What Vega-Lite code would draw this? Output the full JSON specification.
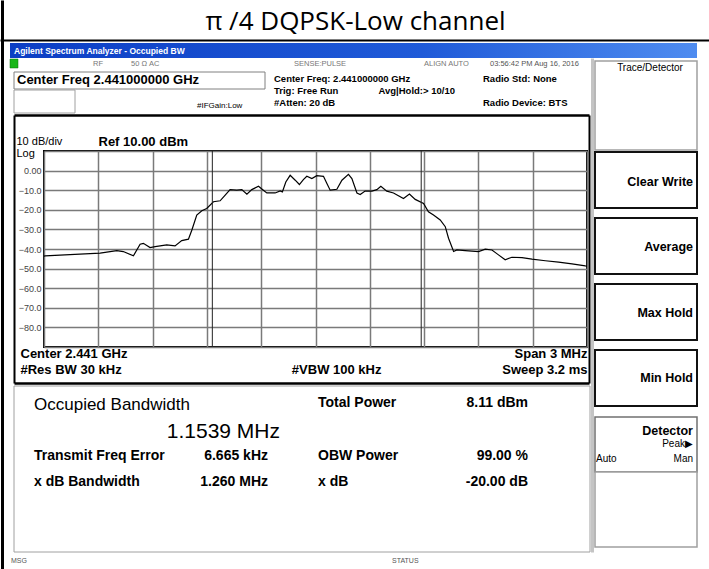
{
  "$schema": "https://vega.github.io/schema/vega-lite/v6.json",
  "width": 543,
  "height": 196,
  "autosize": {"type": "none"},
  "padding": {"left": 44, "top": 151, "right": 122, "bottom": 222},
  "background": "white",
  "config": {"view": {"stroke": "black", "strokeWidth": 2}, "font": "Liberation Sans"},
  "datasets": {
    "trace": [
      {"f": 2439.500, "db": -43.6}, {"f": 2439.506, "db": -43.5}, {"f": 2439.810, "db": -42.1}, {"f": 2439.902, "db": -40.8},
      {"f": 2439.938, "db": -41.3}, {"f": 2439.994, "db": -43.5}, {"f": 2440.031, "db": -37.6}, {"f": 2440.049, "db": -37.1},
      {"f": 2440.086, "db": -39.3}, {"f": 2440.114, "db": -38.8}, {"f": 2440.178, "db": -37.9}, {"f": 2440.224, "db": -38.4},
      {"f": 2440.261, "db": -35.7}, {"f": 2440.298, "db": -35.0}, {"f": 2440.317, "db": -30.3}, {"f": 2440.344, "db": -22.7},
      {"f": 2440.372, "db": -20.5}, {"f": 2440.399, "db": -19.3}, {"f": 2440.436, "db": -15.9}, {"f": 2440.473, "db": -15.4},
      {"f": 2440.501, "db": -12.5}, {"f": 2440.528, "db": -9.7}, {"f": 2440.565, "db": -10.0}, {"f": 2440.593, "db": -9.7},
      {"f": 2440.621, "db": -12.0}, {"f": 2440.648, "db": -9.7}, {"f": 2440.685, "db": -8.0}, {"f": 2440.712, "db": -10.0},
      {"f": 2440.731, "db": -11.4}, {"f": 2440.777, "db": -11.4}, {"f": 2440.805, "db": -10.4}, {"f": 2440.817, "db": -10.9},
      {"f": 2440.836, "db": -5.8}, {"f": 2440.860, "db": -2.4}, {"f": 2440.888, "db": -4.9}, {"f": 2440.911, "db": -7.1},
      {"f": 2440.933, "db": -4.6}, {"f": 2440.952, "db": -2.9}, {"f": 2440.980, "db": -4.1}, {"f": 2441.007, "db": -2.6},
      {"f": 2441.044, "db": -2.9}, {"f": 2441.063, "db": -6.6}, {"f": 2441.081, "db": -10.0}, {"f": 2441.118, "db": -9.5},
      {"f": 2441.146, "db": -4.9}, {"f": 2441.182, "db": -1.9}, {"f": 2441.201, "db": -4.1}, {"f": 2441.229, "db": -11.4},
      {"f": 2441.247, "db": -12.2}, {"f": 2441.274, "db": -10.4}, {"f": 2441.312, "db": -10.5}, {"f": 2441.339, "db": -9.7},
      {"f": 2441.361, "db": -8.0}, {"f": 2441.394, "db": -10.5}, {"f": 2441.431, "db": -11.4}, {"f": 2441.486, "db": -14.2},
      {"f": 2441.519, "db": -12.0}, {"f": 2441.551, "db": -14.7}, {"f": 2441.597, "db": -16.8}, {"f": 2441.624, "db": -21.0},
      {"f": 2441.652, "db": -22.7}, {"f": 2441.689, "db": -25.2}, {"f": 2441.717, "db": -28.6}, {"f": 2441.735, "db": -34.5},
      {"f": 2441.763, "db": -41.3}, {"f": 2441.781, "db": -40.5}, {"f": 2441.827, "db": -40.8}, {"f": 2441.901, "db": -41.3},
      {"f": 2441.938, "db": -40.1}, {"f": 2441.975, "db": -40.5}, {"f": 2442.011, "db": -43.0}, {"f": 2442.048, "db": -45.5},
      {"f": 2442.085, "db": -44.2}, {"f": 2442.141, "db": -44.4}, {"f": 2442.196, "db": -45.2}, {"f": 2442.270, "db": -46.0},
      {"f": 2442.343, "db": -46.7}, {"f": 2442.417, "db": -47.6}, {"f": 2442.491, "db": -48.6}, {"f": 2442.500, "db": -48.7}
    ],
    "markers": [{"f": 2440.430}, {"f": 2441.584}],
    "panel": [
      {"t": "Occupied Bandwidth", "c": "A", "r": "r1", "role": "heading"},
      {"t": "Total Power", "c": "C", "r": "r1", "role": "label"},
      {"t": "8.11 dBm", "c": "D", "r": "r1", "role": "value"},
      {"t": "1.1539 MHz", "c": "E", "r": "r2", "role": "big"},
      {"t": "Transmit Freq Error", "c": "A", "r": "r3", "role": "label"},
      {"t": "6.665 kHz", "c": "B", "r": "r3", "role": "value"},
      {"t": "OBW Power", "c": "C", "r": "r3", "role": "label"},
      {"t": "99.00 %", "c": "D", "r": "r3", "role": "value"},
      {"t": "x dB Bandwidth", "c": "A", "r": "r4", "role": "label"},
      {"t": "1.260 MHz", "c": "B", "r": "r4", "role": "value"},
      {"t": "x dB", "c": "C", "r": "r4", "role": "label"},
      {"t": "-20.00 dB", "c": "D", "r": "r4", "role": "value"}
    ],
    "header": [
      {"t": "Center Freq: 2.441000000 GHz", "c": "h1", "r": "s1"},
      {"t": "Trig: Free Run", "c": "h1", "r": "s2"},
      {"t": "#Atten: 20 dB", "c": "h1", "r": "s3"},
      {"t": "Avg|Hold:> 10/10", "c": "h2", "r": "s2"},
      {"t": "Radio Std: None", "c": "h3", "r": "s1"},
      {"t": "Radio Device: BTS", "c": "h3", "r": "s3"}
    ],
    "keys": [
      {"t": "Clear Write", "k": "k1", "c": "s"},
      {"t": "Average", "k": "k2", "c": "s"},
      {"t": "Max Hold", "k": "k3", "c": "s"},
      {"t": "Min Hold", "k": "k4", "c": "s"}
    ],
    "detector": [
      {"t": "Peak▶", "k": "p1"},
      {"t": "Man", "k": "p2"}
    ],
    "frame": [{"k": "a"}]
  },
  "layer": [
    {
      "data": {"name": "frame"},
      "mark": {"type": "rect", "color": {"gradient": "linear", "x1": 0, "y1": 0, "x2": 1, "y2": 0, "stops": [{"offset": 0, "color": "#0c3ec4"}, {"offset": 0.6, "color": "#1f5ad8"}, {"offset": 1, "color": "#4f8cf0"}]}},
      "encoding": {
        "x": {"field": "k", "type": "nominal", "scale": {"type": "band", "domain": ["a"], "range": [-34, 653], "paddingInner": 0, "paddingOuter": 0}, "axis": null},
        "y": {"field": "k", "type": "nominal", "scale": {"type": "band", "domain": ["a"], "range": [-108, -93], "paddingInner": 0, "paddingOuter": 0}, "axis": null}
      }
    },
    {
      "data": {"name": "frame"},
      "mark": {"type": "rect", "fill": "#19b619", "stroke": "#0a700a", "strokeWidth": 0.5},
      "encoding": {
        "x": {"field": "k", "type": "nominal", "scale": {"type": "band", "domain": ["a"], "range": [-34, -26], "paddingInner": 0, "paddingOuter": 0}, "axis": null},
        "y": {"field": "k", "type": "nominal", "scale": {"type": "band", "domain": ["a"], "range": [-92, -83], "paddingInner": 0, "paddingOuter": 0}, "axis": null}
      }
    },
    {
      "data": {"name": "frame"},
      "mark": {"type": "rect", "fill": "white", "stroke": "#808080", "strokeWidth": 1},
      "encoding": {
        "x": {"field": "k", "type": "nominal", "scale": {"type": "band", "domain": ["a"], "range": [-30, 221], "paddingInner": 0, "paddingOuter": 0}, "axis": null},
        "y": {"field": "k", "type": "nominal", "scale": {"type": "band", "domain": ["a"], "range": [-79, -62], "paddingInner": 0, "paddingOuter": 0}, "axis": null}
      }
    },
    {
      "data": {"name": "frame"},
      "mark": {"type": "rect", "fill": "white", "stroke": "#a0a0a0", "strokeWidth": 1},
      "encoding": {
        "x": {"field": "k", "type": "nominal", "scale": {"type": "band", "domain": ["a"], "range": [-30, 31], "paddingInner": 0, "paddingOuter": 0}, "axis": null},
        "y": {"field": "k", "type": "nominal", "scale": {"type": "band", "domain": ["a"], "range": [-61, -38], "paddingInner": 0, "paddingOuter": 0}, "axis": null}
      }
    },
    {
      "data": {"name": "frame"},
      "mark": {"type": "rect", "fill": "white", "stroke": "#a0a0a0", "strokeWidth": 1.5},
      "encoding": {
        "x": {"field": "k", "type": "nominal", "scale": {"type": "band", "domain": ["a"], "range": [551, 653], "paddingInner": 0, "paddingOuter": 0}, "axis": null},
        "y": {"field": "k", "type": "nominal", "scale": {"type": "band", "domain": ["a"], "range": [-90, -1], "paddingInner": 0, "paddingOuter": 0}, "axis": null}
      }
    },
    {
      "data": {"name": "keys"},
      "mark": {"type": "rect", "fill": "white", "stroke": "#111", "strokeWidth": 2},
      "encoding": {
        "x": {"field": "c", "type": "nominal", "scale": {"type": "band", "domain": ["s"], "range": [551, 653], "paddingInner": 0, "paddingOuter": 0}, "axis": null},
        "y": {"field": "k", "type": "nominal", "scale": {"type": "band", "domain": ["k1", "k2", "k3", "k4"], "range": [1, 255], "paddingInner": 0.1515, "paddingOuter": 0}, "axis": null}
      }
    },
    {
      "data": {"name": "frame"},
      "mark": {"type": "rect", "fill": "white", "stroke": "#707070", "strokeWidth": 1.5},
      "encoding": {
        "x": {"field": "k", "type": "nominal", "scale": {"type": "band", "domain": ["a"], "range": [551, 653], "paddingInner": 0, "paddingOuter": 0}, "axis": null},
        "y": {"field": "k", "type": "nominal", "scale": {"type": "band", "domain": ["a"], "range": [266, 321], "paddingInner": 0, "paddingOuter": 0}, "axis": null}
      }
    },
    {
      "data": {"name": "frame"},
      "mark": {"type": "rect", "fill": "white", "stroke": "#a0a0a0", "strokeWidth": 1.5},
      "encoding": {
        "x": {"field": "k", "type": "nominal", "scale": {"type": "band", "domain": ["a"], "range": [551, 653], "paddingInner": 0, "paddingOuter": 0}, "axis": null},
        "y": {"field": "k", "type": "nominal", "scale": {"type": "band", "domain": ["a"], "range": [321, 396], "paddingInner": 0, "paddingOuter": 0}, "axis": null}
      }
    },
    {
      "data": {"name": "frame"},
      "mark": {"type": "rect", "fill": "white", "stroke": "#a0a0a0", "strokeWidth": 1},
      "encoding": {
        "x": {"field": "k", "type": "nominal", "scale": {"type": "band", "domain": ["a"], "range": [-30, 546], "paddingInner": 0, "paddingOuter": 0}, "axis": null},
        "y": {"field": "k", "type": "nominal", "scale": {"type": "band", "domain": ["a"], "range": [235, 401], "paddingInner": 0, "paddingOuter": 0}, "axis": null}
      }
    },
    {
      "data": {"name": "frame"},
      "mark": {"type": "point", "opacity": 0, "size": 0},
      "encoding": {
        "x": {"field": "k", "type": "nominal", "scale": {"type": "point", "domain": ["a"], "range": [-44, 665], "padding": 0},
          "axis": {"orient": "top", "offset": 111, "domainColor": "black", "domainWidth": 2, "labels": false, "ticks": false, "grid": false,
            "title": "π /4 DQPSK-Low channel", "titleX": 311, "titleY": -19, "titleAlign": "center", "titleBaseline": "middle",
            "titleFont": "Open Sans", "titleFontSize": 26, "titleFontWeight": "normal", "titleColor": "black"}},
        "y": {"field": "k", "type": "nominal", "scale": {"type": "point", "domain": ["a"], "range": [-151, 418], "padding": 0},
          "axis": {"orient": "left", "offset": 42, "domainColor": "black", "domainWidth": 3, "labels": false, "ticks": false, "grid": false, "title": null}}
      }
    },
    {
      "data": {"name": "frame"},
      "mark": {"type": "point", "opacity": 0, "size": 0},
      "encoding": {
        "x": {"field": "k", "type": "nominal", "scale": {"type": "point", "domain": ["a"], "range": [-30, 545], "padding": 0},
          "axis": {"orient": "top", "offset": 36, "domainColor": "black", "domainWidth": 2.5, "labels": false, "ticks": false, "grid": false, "title": null}},
        "y": {"field": "k", "type": "nominal", "scale": {"type": "point", "domain": ["a"], "range": [-36, 232], "padding": 0},
          "axis": {"orient": "left", "offset": 30, "domainColor": "black", "domainWidth": 2, "labels": false, "ticks": false, "grid": false, "title": null}}
      }
    },
    {
      "data": {"name": "frame"},
      "mark": {"type": "point", "opacity": 0, "size": 0},
      "encoding": {
        "x": {"field": "k", "type": "nominal", "scale": {"type": "point", "domain": ["a"], "range": [-30, 545], "padding": 0},
          "axis": {"orient": "bottom", "offset": 36, "domainColor": "black", "domainWidth": 2.5, "labels": false, "ticks": false, "grid": false, "title": null}},
        "y": {"field": "k", "type": "nominal", "scale": {"type": "point", "domain": ["a"], "range": [-36, 232], "padding": 0},
          "axis": {"orient": "right", "offset": 2, "domainColor": "black", "domainWidth": 2, "labels": false, "ticks": false, "grid": false, "title": null}}
      }
    },
    {
      "data": {"name": "frame"},
      "mark": {"type": "point", "opacity": 0, "size": 0},
      "encoding": {
        "y": {"field": "k", "type": "nominal", "scale": {"type": "point", "domain": ["a"], "range": [-93, 401], "padding": 0},
          "axis": {"orient": "right", "offset": 5, "domainColor": "#c4c4c4", "domainWidth": 3, "labels": false, "ticks": false, "grid": false, "title": null}}
      }
    },
    {
      "data": {"name": "trace"},
      "mark": {"type": "line", "color": "black", "strokeWidth": 1.2},
      "encoding": {
        "x": {
          "field": "f", "type": "quantitative",
          "scale": {"domain": [2439.5, 2442.5], "nice": false, "zero": false},
          "axis": {
            "values": [2439.5, 2439.8, 2440.1, 2440.4, 2440.7, 2441.0, 2441.3, 2441.6, 2441.9, 2442.2, 2442.5, 2441.114],
            "grid": true, "gridColor": "#7a7a7a", "gridWidth": 1.5,
            "gridOpacity": {"condition": {"test": "datum.value > 2441.1 && datum.value < 2441.2", "value": 0}, "value": 1},
            "ticks": false, "domain": false,
            "labelOverlap": false, "labelFlush": false, "labelBound": false,
            "labelExpr": "datum.value < 2439.6 ? ['Center  2.441 GHz', '#Res BW  30 kHz'] : datum.value > 2442.4 ? ['Span 3 MHz', 'Sweep  3.2 ms'] : (datum.value > 2441.1 && datum.value < 2441.2) ? ['', '#VBW  100 kHz'] : ''",
            "labelAlign": {"condition": [{"test": "datum.value < 2439.6", "value": "left"}, {"test": "datum.value > 2442.4", "value": "right"}], "value": "center"},
            "labelOffset": {"condition": {"test": "datum.value < 2439.6", "value": -24}, "value": 0},
            "labelBaseline": "top", "labelPadding": 0, "labelLineHeight": 16,
            "labelFont": "Liberation Sans", "labelFontSize": 13, "labelFontWeight": "bold", "labelColor": "black",
            "title": "Ref 10.00 dBm", "titleX": 54, "titleY": -206, "titleAlign": "left", "titleBaseline": "middle",
            "titleFont": "Liberation Sans", "titleFontSize": 13, "titleFontWeight": "bold", "titleColor": "black"
          }
        },
        "y": {
          "field": "db", "type": "quantitative",
          "scale": {"domain": [-90, 10], "nice": false, "zero": false},
          "axis": {
            "values": [-90, -80, -70, -60, -50, -40, -30, -20, -10, 0, 10],
            "grid": true, "gridColor": "#7a7a7a", "gridWidth": 1.5,
            "ticks": false, "domain": false, "labelOverlap": false,
            "labelExpr": "datum.value >= 10 || datum.value <= -90 ? '' : datum.value == 0 ? '0.00' : format(datum.value, '.1f')",
            "labelFont": "Liberation Sans", "labelFontSize": 9, "labelColor": "#444", "labelPadding": 3,
            "title": ["10 dB/div", "Log"], "titleAngle": 0, "titleX": -28, "titleY": -16, "titleAlign": "left", "titleBaseline": "top",
            "titleFont": "Liberation Sans", "titleFontSize": 11, "titleFontWeight": "normal", "titleLineHeight": 12, "titleColor": "black"
          }
        }
      }
    },
    {
      "data": {"name": "markers"},
      "mark": {"type": "rule", "color": "#222", "strokeWidth": 1},
      "encoding": {
        "x": {"field": "f", "type": "quantitative", "scale": {"domain": [2439.5, 2442.5], "nice": false, "zero": false}, "axis": null}
      }
    },
    {
      "data": {"name": "panel"},
      "transform": [{"filter": "datum.role == 'heading'"}],
      "mark": {"type": "text", "align": "left", "baseline": "middle", "font": "Liberation Sans", "fontSize": 17, "color": "black"},
      "encoding": {
        "x": {"field": "c", "type": "nominal", "scale": {"type": "point", "domain": ["A", "C"], "range": [-10, 274], "padding": 0}, "axis": null},
        "y": {"field": "r", "type": "nominal", "scale": {"type": "point", "domain": ["r1", "r2", "r3", "r4"], "range": [254, 331], "padding": 0}, "axis": null},
        "text": {"field": "t"}
      }
    },
    {
      "data": {"name": "panel"},
      "transform": [{"filter": "datum.role == 'label'"}],
      "mark": {"type": "text", "align": "left", "baseline": "middle", "font": "Liberation Sans", "fontSize": 14, "fontWeight": "bold", "color": "black"},
      "encoding": {
        "x": {"field": "c", "type": "nominal", "scale": {"type": "point", "domain": ["A", "C"], "range": [-10, 274], "padding": 0}, "axis": null},
        "y": {"field": "r", "type": "nominal", "scale": {"type": "point", "domain": ["r1", "r2", "r3", "r4"], "range": [252, 331], "padding": 0}, "axis": null},
        "text": {"field": "t"}
      }
    },
    {
      "data": {"name": "panel"},
      "transform": [{"filter": "datum.role == 'value'"}],
      "mark": {"type": "text", "align": "right", "baseline": "middle", "font": "Liberation Sans", "fontSize": 14, "fontWeight": "bold", "color": "black"},
      "encoding": {
        "x": {"field": "c", "type": "nominal", "scale": {"type": "point", "domain": ["B", "D"], "range": [224, 484], "padding": 0}, "axis": null},
        "y": {"field": "r", "type": "nominal", "scale": {"type": "point", "domain": ["r1", "r2", "r3", "r4"], "range": [252, 331], "padding": 0}, "axis": null},
        "text": {"field": "t"}
      }
    },
    {
      "data": {"name": "panel"},
      "transform": [{"filter": "datum.role == 'big'"}],
      "mark": {"type": "text", "align": "right", "baseline": "middle", "font": "Liberation Sans", "fontSize": 21, "color": "black"},
      "encoding": {
        "x": {"field": "c", "type": "nominal", "scale": {"type": "point", "domain": ["E"], "range": [236, 236], "padding": 0}, "axis": null},
        "y": {"field": "r", "type": "nominal", "scale": {"type": "point", "domain": ["r2"], "range": [281, 281], "padding": 0}, "axis": null},
        "text": {"field": "t"}
      }
    },
    {
      "data": {"name": "header"},
      "mark": {"type": "text", "align": "left", "baseline": "middle", "font": "Liberation Sans", "fontSize": 9.5, "fontWeight": "bold", "color": "black"},
      "encoding": {
        "x": {"field": "c", "type": "nominal", "scale": {"type": "point", "domain": ["h1", "h2", "h3"], "range": [230, 439], "padding": 0}, "axis": null},
        "y": {"field": "r", "type": "nominal", "scale": {"type": "point", "domain": ["s1", "s2", "s3"], "range": [-72, -48], "padding": 0}, "axis": null},
        "text": {"field": "t"}
      }
    },
    {
      "data": {"values": [{"t": "Center Freq 2.441000000 GHz", "k": "a"}]},
      "mark": {"type": "text", "align": "left", "baseline": "middle", "font": "Liberation Sans", "fontSize": 13, "fontWeight": "bold", "color": "black"},
      "encoding": {
        "x": {"field": "k", "type": "nominal", "scale": {"type": "point", "domain": ["a"], "range": [-27, -27], "padding": 0}, "axis": null},
        "y": {"field": "k", "type": "nominal", "scale": {"type": "point", "domain": ["a"], "range": [-71, -71], "padding": 0}, "axis": null},
        "text": {"field": "t"}
      }
    },
    {
      "data": {"values": [{"t": "#IFGain:Low", "k": "a"}]},
      "mark": {"type": "text", "align": "left", "baseline": "middle", "font": "Liberation Sans", "fontSize": 8, "color": "black"},
      "encoding": {
        "x": {"field": "k", "type": "nominal", "scale": {"type": "point", "domain": ["a"], "range": [153, 153], "padding": 0}, "axis": null},
        "y": {"field": "k", "type": "nominal", "scale": {"type": "point", "domain": ["a"], "range": [-45, -45], "padding": 0}, "axis": null},
        "text": {"field": "t"}
      }
    },
    {
      "data": {"values": [{"t": "Agilent Spectrum Analyzer - Occupied BW", "k": "a"}]},
      "mark": {"type": "text", "align": "left", "baseline": "middle", "font": "Liberation Sans", "fontSize": 8.5, "fontWeight": "bold", "color": "white"},
      "encoding": {
        "x": {"field": "k", "type": "nominal", "scale": {"type": "point", "domain": ["a"], "range": [-30, -30], "padding": 0}, "axis": null},
        "y": {"field": "k", "type": "nominal", "scale": {"type": "point", "domain": ["a"], "range": [-100, -100], "padding": 0}, "axis": null},
        "text": {"field": "t"}
      }
    },
    {
      "data": {"values": [{"t": "RF", "k": "a"}]},
      "mark": {"type": "text", "align": "left", "baseline": "middle", "font": "Liberation Sans", "fontSize": 7.5, "color": "#777"},
      "encoding": {
        "x": {"field": "k", "type": "nominal", "scale": {"type": "point", "domain": ["a"], "range": [49, 49], "padding": 0}, "axis": null},
        "y": {"field": "k", "type": "nominal", "scale": {"type": "point", "domain": ["a"], "range": [-87, -87], "padding": 0}, "axis": null},
        "text": {"field": "t"}
      }
    },
    {
      "data": {"values": [{"t": "50 Ω    AC", "k": "a"}]},
      "mark": {"type": "text", "align": "left", "baseline": "middle", "font": "Liberation Sans", "fontSize": 7.5, "color": "#777"},
      "encoding": {
        "x": {"field": "k", "type": "nominal", "scale": {"type": "point", "domain": ["a"], "range": [87, 87], "padding": 0}, "axis": null},
        "y": {"field": "k", "type": "nominal", "scale": {"type": "point", "domain": ["a"], "range": [-87, -87], "padding": 0}, "axis": null},
        "text": {"field": "t"}
      }
    },
    {
      "data": {"values": [{"t": "SENSE:PULSE", "k": "a"}]},
      "mark": {"type": "text", "align": "left", "baseline": "middle", "font": "Liberation Sans", "fontSize": 7.5, "color": "#777"},
      "encoding": {
        "x": {"field": "k", "type": "nominal", "scale": {"type": "point", "domain": ["a"], "range": [250, 250], "padding": 0}, "axis": null},
        "y": {"field": "k", "type": "nominal", "scale": {"type": "point", "domain": ["a"], "range": [-87, -87], "padding": 0}, "axis": null},
        "text": {"field": "t"}
      }
    },
    {
      "data": {"values": [{"t": "ALIGN AUTO", "k": "a"}]},
      "mark": {"type": "text", "align": "left", "baseline": "middle", "font": "Liberation Sans", "fontSize": 7.5, "color": "#777"},
      "encoding": {
        "x": {"field": "k", "type": "nominal", "scale": {"type": "point", "domain": ["a"], "range": [380, 380], "padding": 0}, "axis": null},
        "y": {"field": "k", "type": "nominal", "scale": {"type": "point", "domain": ["a"], "range": [-87, -87], "padding": 0}, "axis": null},
        "text": {"field": "t"}
      }
    },
    {
      "data": {"values": [{"t": "03:56:42 PM Aug 16, 2016", "k": "a"}]},
      "mark": {"type": "text", "align": "left", "baseline": "middle", "font": "Liberation Sans", "fontSize": 7.5, "color": "#555"},
      "encoding": {
        "x": {"field": "k", "type": "nominal", "scale": {"type": "point", "domain": ["a"], "range": [446, 446], "padding": 0}, "axis": null},
        "y": {"field": "k", "type": "nominal", "scale": {"type": "point", "domain": ["a"], "range": [-87, -87], "padding": 0}, "axis": null},
        "text": {"field": "t"}
      }
    },
    {
      "data": {"values": [{"t": "Trace/Detector", "k": "a"}]},
      "mark": {"type": "text", "align": "center", "baseline": "middle", "font": "Liberation Sans", "fontSize": 10, "color": "black"},
      "encoding": {
        "x": {"field": "k", "type": "nominal", "scale": {"type": "point", "domain": ["a"], "range": [606, 606], "padding": 0}, "axis": null},
        "y": {"field": "k", "type": "nominal", "scale": {"type": "point", "domain": ["a"], "range": [-83, -83], "padding": 0}, "axis": null},
        "text": {"field": "t"}
      }
    },
    {
      "data": {"name": "keys"},
      "mark": {"type": "text", "align": "right", "baseline": "middle", "font": "Liberation Sans", "fontSize": 12.5, "fontWeight": "bold", "color": "black"},
      "encoding": {
        "x": {"field": "c", "type": "nominal", "scale": {"type": "point", "domain": ["s"], "range": [649, 649], "padding": 0}, "axis": null},
        "y": {"field": "k", "type": "nominal", "scale": {"type": "point", "domain": ["k1", "k2", "k3", "k4"], "range": [31, 227], "padding": 0}, "axis": null},
        "text": {"field": "t"}
      }
    },
    {
      "data": {"values": [{"t": "Detector", "k": "a"}]},
      "mark": {"type": "text", "align": "right", "baseline": "middle", "font": "Liberation Sans", "fontSize": 12.5, "fontWeight": "bold", "color": "black"},
      "encoding": {
        "x": {"field": "k", "type": "nominal", "scale": {"type": "point", "domain": ["a"], "range": [649, 649], "padding": 0}, "axis": null},
        "y": {"field": "k", "type": "nominal", "scale": {"type": "point", "domain": ["a"], "range": [280, 280], "padding": 0}, "axis": null},
        "text": {"field": "t"}
      }
    },
    {
      "data": {"name": "detector"},
      "mark": {"type": "text", "align": "right", "baseline": "middle", "font": "Liberation Sans", "fontSize": 10, "color": "black"},
      "encoding": {
        "x": {"field": "k", "type": "nominal", "scale": {"type": "point", "domain": ["p1", "p2"], "range": [649, 649], "padding": 0}, "axis": null},
        "y": {"field": "k", "type": "nominal", "scale": {"type": "point", "domain": ["p1", "p2"], "range": [293, 308], "padding": 0}, "axis": null},
        "text": {"field": "t"}
      }
    },
    {
      "data": {"values": [{"t": "Auto", "k": "a"}]},
      "mark": {"type": "text", "align": "left", "baseline": "middle", "font": "Liberation Sans", "fontSize": 10, "color": "black"},
      "encoding": {
        "x": {"field": "k", "type": "nominal", "scale": {"type": "point", "domain": ["a"], "range": [552, 552], "padding": 0}, "axis": null},
        "y": {"field": "k", "type": "nominal", "scale": {"type": "point", "domain": ["a"], "range": [308, 308], "padding": 0}, "axis": null},
        "text": {"field": "t"}
      }
    },
    {
      "data": {"values": [{"t": "MSG", "k": "m1"}, {"t": "STATUS", "k": "m2"}]},
      "mark": {"type": "text", "align": "left", "baseline": "middle", "font": "Liberation Sans", "fontSize": 7, "color": "#555"},
      "encoding": {
        "x": {"field": "k", "type": "nominal", "scale": {"type": "point", "domain": ["m1", "m2"], "range": [-33, 348], "padding": 0}, "axis": null},
        "y": {"field": "k", "type": "nominal", "scale": {"type": "point", "domain": ["m1", "m2"], "range": [410, 410], "padding": 0}, "axis": null},
        "text": {"field": "t"}
      }
    }
  ],
  "resolve": {"scale": {"x": "independent", "y": "independent"}}
}
